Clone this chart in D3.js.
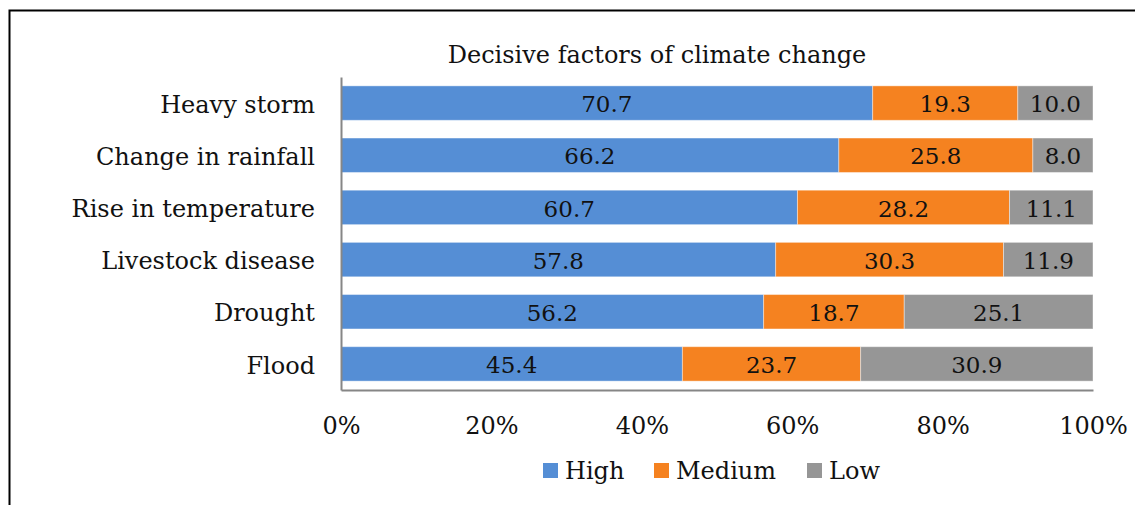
<!DOCTYPE html>
<html>
<head>
<meta charset="utf-8">
<script src="https://cdn.jsdelivr.net/npm/d3@7"></script>
<style>
  html, body { margin: 0; padding: 0; background: #fff; }
  svg { display: block; }
  text { font-family: "DejaVu Serif", serif; fill: #111; }
</style>
</head>
<body>
<svg id="chart" width="1135" height="505"></svg>
<script>
var categories = ['Heavy storm', 'Change in rainfall', 'Rise in temperature', 'Livestock disease', 'Drought', 'Flood'];
var seriesNames = ['High', 'Medium', 'Low'];
var high = [70.7, 66.2, 60.7, 57.8, 56.2, 45.4];
var medium = [19.3, 25.8, 28.2, 30.3, 18.7, 23.7];
var low = [10.0, 8.0, 11.1, 11.9, 25.1, 30.9];
var tickValues = [0, 20, 40, 60, 80, 100];
var colors = ['#558ed5', '#f58220', '#969696'];

var svg = d3.select('#chart');
var margin = { left: 341, right: 42, top: 77, bottom: 115 };
var width = 1135 - margin.left - margin.right;
var height = 505 - margin.top - margin.bottom;
var fontSize = 24;

// outer frame (only top and left edges show in the picture)
svg.append('path')
	.attr('d', 'M9.5,505 L9.5,10.5 L1135,10.5')
	.attr('fill', 'none')
	.attr('stroke', '#000')
	.attr('stroke-width', 2);

svg.append('text')
	.attr('x', 657)
	.attr('y', 63)
	.attr('text-anchor', 'middle')
	.attr('font-size', fontSize)
	.text('Decisive factors of climate change');

var rows = categories.map(function (c, i) {
	return { cat: c, values: [high[i], medium[i], low[i]] };
});
var stacked = d3.stack().keys([0, 1, 2]).value(function (d, k) { return d.values[k]; })(rows);

var x = d3.scaleLinear().domain([0, 100]).range([0, width]);
var y = d3.scaleBand().domain(categories).range([0, height]).paddingInner(0.34).paddingOuter(0.17);

var g = svg.append('g').attr('transform', 'translate(' + margin.left + ',' + margin.top + ')');

var layers = g.selectAll('g.layer').data(stacked).enter()
	.append('g').attr('class', 'layer')
	.attr('fill', function (d, i) { return colors[i]; });

layers.selectAll('rect').data(function (d) { return d; }).enter()
	.append('rect')
	.attr('x', function (d) { return x(d[0]); })
	.attr('y', function (d) { return y(d.data.cat); })
	.attr('width', function (d) { return x(d[1]) - x(d[0]); })
	.attr('height', y.bandwidth())
	.attr('stroke', '#fff')
	.attr('stroke-opacity', 0.4)
	.attr('stroke-width', 1);

layers.selectAll('text').data(function (d) { return d; }).enter()
	.append('text')
	.attr('x', function (d) { return (x(d[0]) + x(d[1])) / 2; })
	.attr('y', function (d) { return y(d.data.cat) + y.bandwidth() / 2; })
	.attr('dy', '0.4em')
	.attr('text-anchor', 'middle')
	.attr('font-size', 23)
	.text(function (d) { return (d[1] - d[0]).toFixed(1); });

// category axis
var yAxis = d3.axisLeft(y).tickSize(0).tickPadding(26);
var yg = g.append('g').call(yAxis);
yg.select('.domain').attr('stroke', '#868686').attr('stroke-width', 2);
yg.selectAll('text').attr('font-size', fontSize).attr('font-family', '"DejaVu Serif", serif')
	.attr('fill', '#111').attr('dy', '0.4em');

// value axis
var xAxis = d3.axisBottom(x).tickValues(tickValues).tickSize(0).tickPadding(27)
	.tickFormat(function (d) { return d + '%'; });
var xg = g.append('g').attr('transform', 'translate(0,' + height + ')').call(xAxis);
xg.select('.domain').attr('stroke', '#868686').attr('stroke-width', 2);
xg.selectAll('text').attr('font-size', fontSize).attr('font-family', '"DejaVu Serif", serif').attr('fill', '#111');

// legend
var legendX = [543, 654, 807];
var legend = svg.append('g').selectAll('g').data(seriesNames).enter()
	.append('g')
	.attr('transform', function (d, i) { return 'translate(' + legendX[i] + ',463)'; });
legend.append('rect').attr('width', 15).attr('height', 15)
	.attr('fill', function (d, i) { return colors[i]; });
legend.append('text').attr('x', 22).attr('y', 16)
	.attr('font-size', fontSize)
	.text(function (d) { return d; });
</script>
</body>
</html>
